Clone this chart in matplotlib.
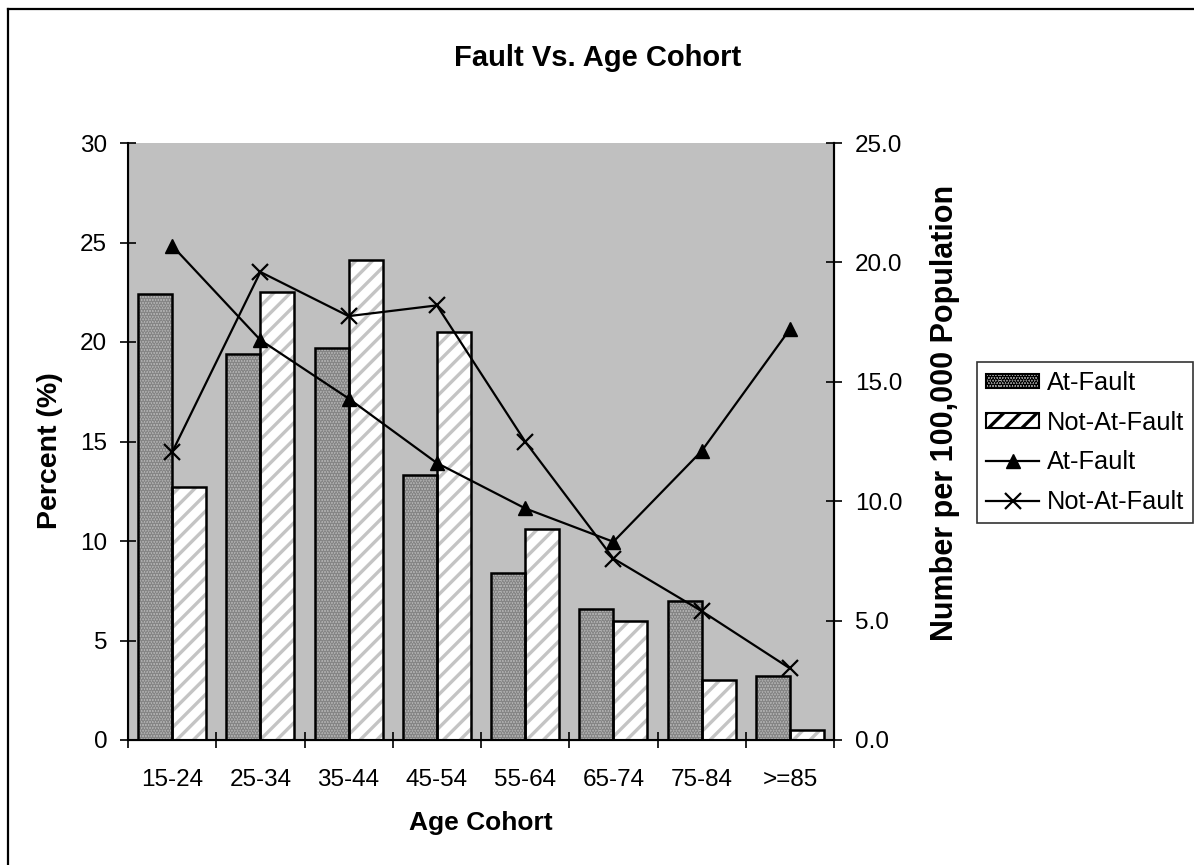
import numpy as np
import matplotlib
matplotlib.use("Agg")
import matplotlib.pyplot as plt
from matplotlib.lines import Line2D

plt.rcParams['font.family'] = ['Liberation Sans', 'DejaVu Sans']
plt.rcParams['hatch.linewidth'] = 2.4

# data
cohorts = ["15-24", "25-34", "35-44", "45-54", "55-64", "65-74", "75-84", ">=85"]
pct_at_fault = [22.4, 19.4, 19.7, 13.3, 8.4, 6.6, 7.0, 3.2]
pct_not_at_fault = [12.7, 22.5, 24.1, 20.5, 10.6, 6.0, 3.0, 0.5]
rate_at_fault = [20.7, 16.75, 14.3, 11.6, 9.7, 8.3, 12.1, 17.2]
rate_not_at_fault = [12.05, 19.6, 17.75, 18.2, 12.5, 7.6, 5.4, 3.0]

W, H = 1194, 865
fig = plt.figure(figsize=(W / 100, H / 100), dpi=100)

# chart area border (only left/top visible)
fig.add_artist(Line2D([8 / W, 8 / W], [0, 1 - 9 / H], color="black", lw=1.6))
fig.add_artist(Line2D([8 / W, 1], [1 - 9 / H, 1 - 9 / H], color="black", lw=1.6))

ax = fig.add_axes([128 / W, 1 - 740 / H, (834 - 128) / W, (740 - 143) / H])
ax.set_facecolor("#c0c0c0")

x = np.arange(len(cohorts))
w = 0.385

# At-Fault: fine dotted grey
ax.bar(x - w / 2, pct_at_fault, w, color="#b4b4b4", edgecolor="#858585",
       hatch="......", linewidth=0, zorder=2)
ax.bar(x - w / 2, pct_at_fault, w, fill=False, edgecolor="black", linewidth=1.8, zorder=3)
# Not-At-Fault: white with grey diagonal stripes
ax.bar(x + w / 2, pct_not_at_fault, w, color="white", edgecolor="#c4c4c4",
       hatch="//", linewidth=0, zorder=2)
ax.bar(x + w / 2, pct_not_at_fault, w, fill=False, edgecolor="black", linewidth=1.8, zorder=3)

ax.set_xlim(-0.5, len(cohorts) - 0.5)
ax.set_ylim(0, 30)
ax.set_yticks(np.arange(0, 31, 5))
ax.set_xticks(x)
ax.set_xticklabels(cohorts)
ax.set_xticks(np.arange(-0.5, len(cohorts), 1), minor=True)
ax.tick_params(axis="x", which="major", length=0, labelsize=17.5, pad=21)
ax.tick_params(axis="x", which="minor", direction="inout", length=12, width=1.2)
ax.tick_params(axis="y", direction="inout", length=12, width=1.2, labelsize=17.5, pad=9)
ax.spines["top"].set_visible(False)
for s in ["left", "bottom", "right"]:
    ax.spines[s].set_linewidth(1.5)

ax.set_xlabel("Age Cohort", fontsize=19, fontweight="bold", labelpad=14)
ax.set_ylabel("Percent (%)", fontsize=20.5, fontweight="bold", labelpad=12)
ax.yaxis.label.set_y(0.484)

ax2 = ax.twinx()
ax2.plot(x, rate_at_fault, color="black", lw=1.6, marker="^", markersize=10,
         markerfacecolor="black", zorder=4)
ax2.plot(x, rate_not_at_fault, color="black", lw=1.6, marker="x", markersize=11,
         markeredgewidth=1.6, zorder=4)
ax2.set_ylim(0, 25)
ax2.set_yticks(np.arange(0, 26, 5))
ax2.set_yticklabels(["%.1f" % v for v in np.arange(0, 26, 5)])
ax2.tick_params(axis="y", direction="inout", length=12, width=1.2, labelsize=17.5, pad=9)
ax2.spines["top"].set_visible(False)
ax2.spines["right"].set_linewidth(1.5)
ax2.set_ylabel("Number per 100,000 Population", fontsize=22, fontweight="bold", labelpad=20)
ax2.yaxis.label.set_y(0.548)

fig.text(598 / W, 1 - 58 / H, "Fault Vs. Age Cohort", fontsize=21, fontweight="bold",
         ha="center", va="center")

handles = [
    plt.Rectangle((0, 0), 1, 1, facecolor="#b4b4b4", edgecolor="black", hatch="......", lw=1.5),
    plt.Rectangle((0, 0), 1, 1, facecolor="white", edgecolor="black", hatch="//", lw=1.5),
    Line2D([], [], color="black", lw=1.6, marker="^", markersize=10),
    Line2D([], [], color="black", lw=1.6, marker="x", markersize=11, markeredgewidth=1.6),
]
labels = ["At-Fault", "Not-At-Fault", "At-Fault", "Not-At-Fault"]
leg = fig.legend(handles, labels, loc="upper left", bbox_to_anchor=(977 / W, 1 - 362 / H),
                 fontsize=18.3, frameon=True, fancybox=False, edgecolor="black",
                 handlelength=2.1, handleheight=0.5, handletextpad=0.3, labelspacing=0.62,
                 borderpad=0.35, borderaxespad=0)
leg.get_frame().set_linewidth(1.2)

fig.savefig("out.png", dpi=100, facecolor="white")
